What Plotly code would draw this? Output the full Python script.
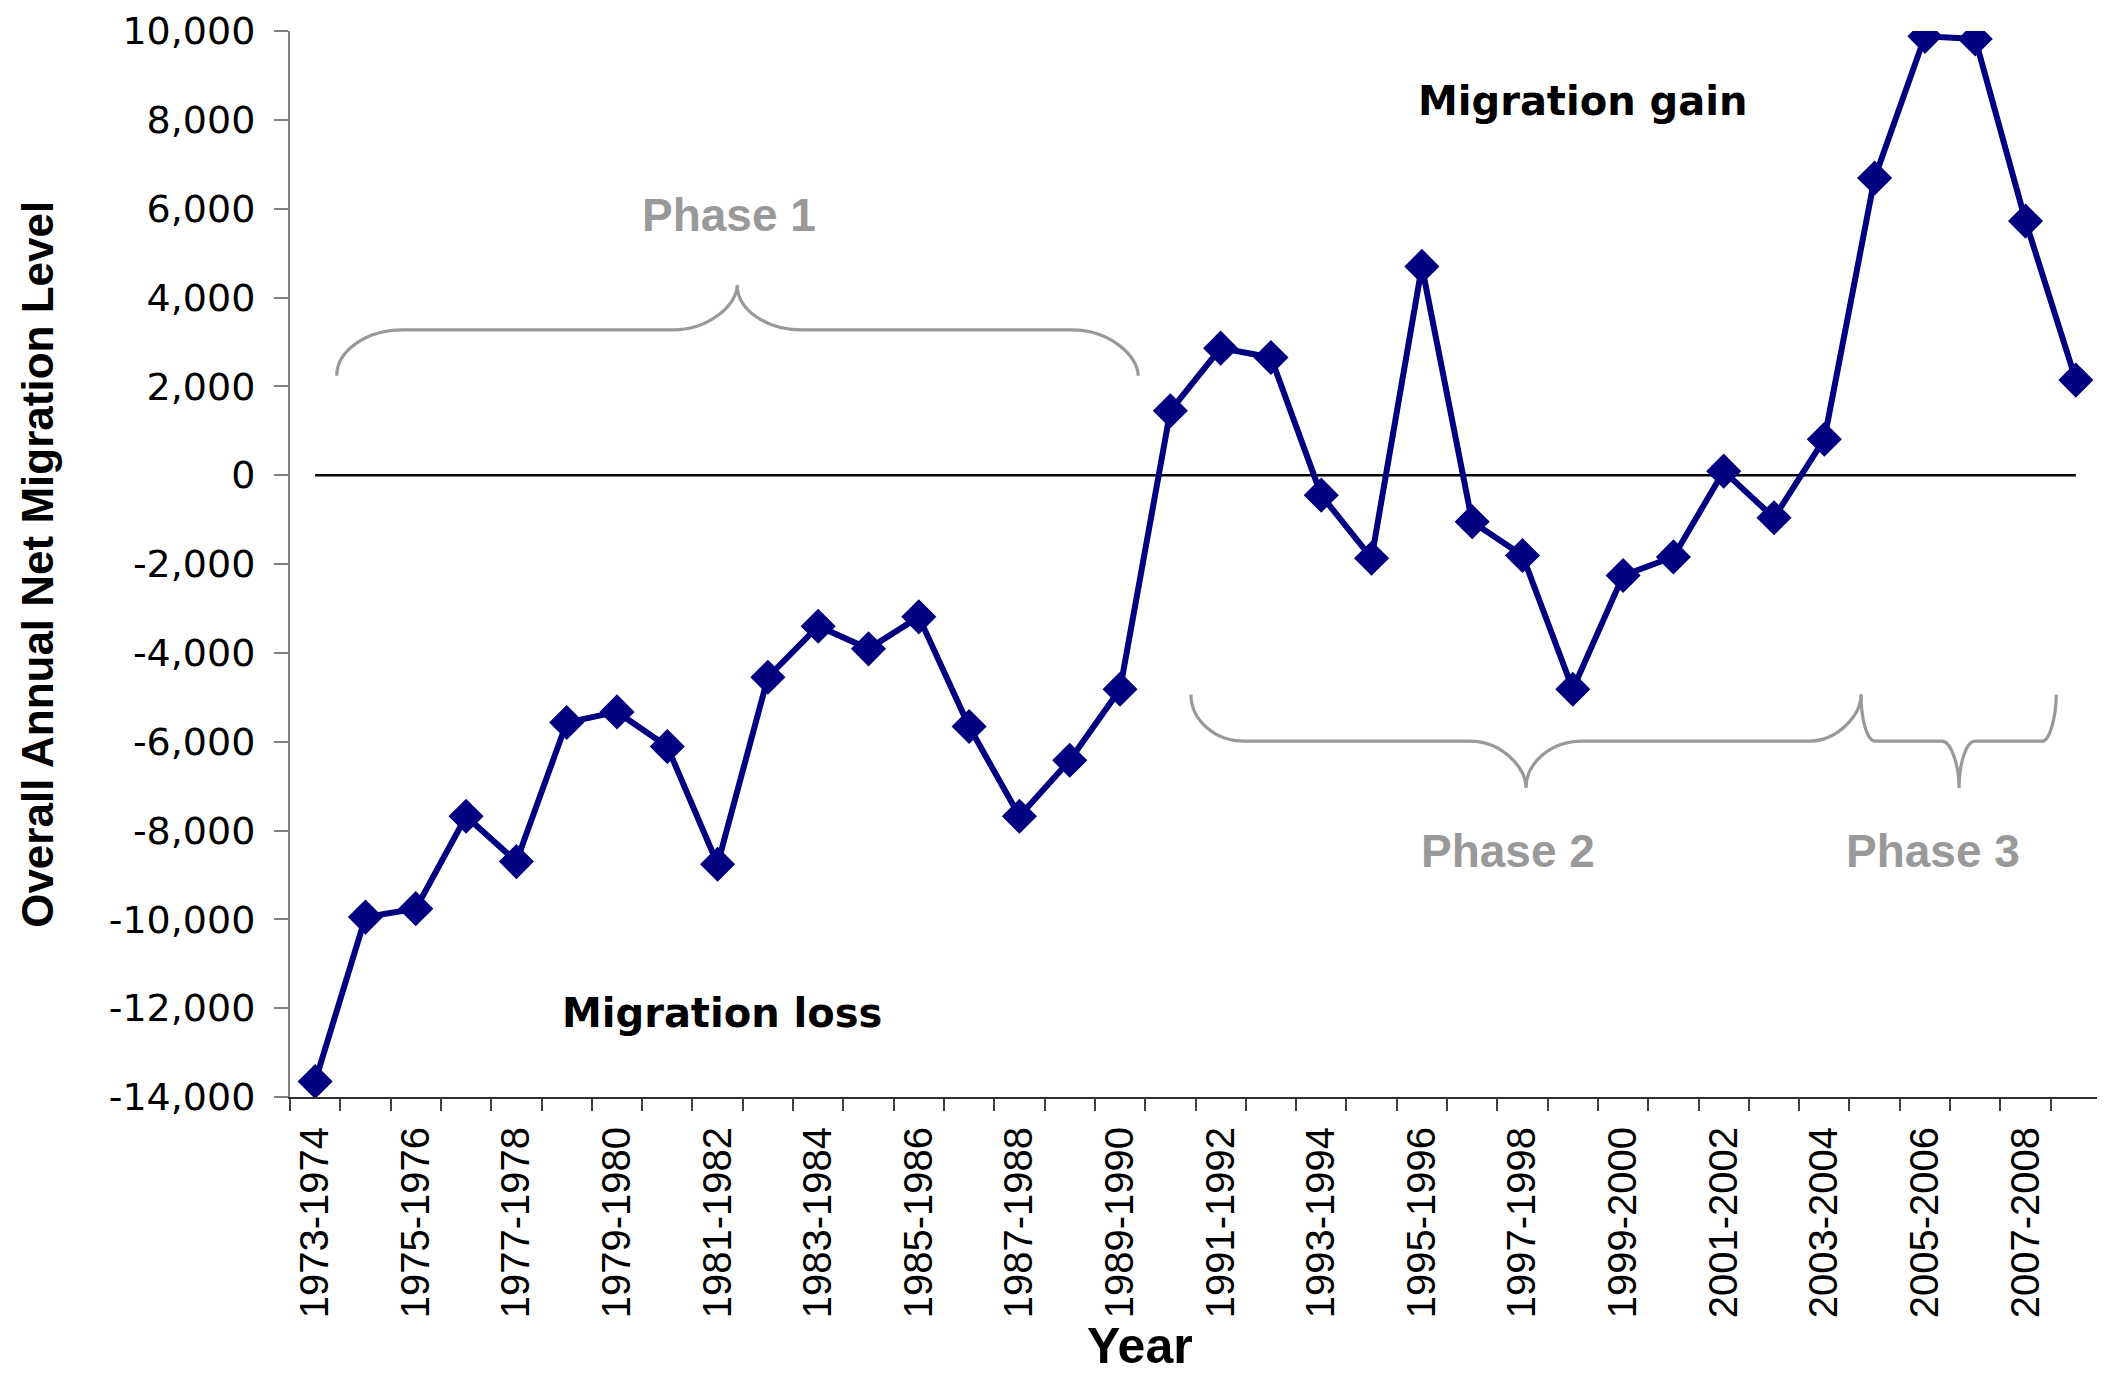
import plotly.graph_objects as go

# ---------------- data ----------------
years = [
    "1973-1974", "1974-1975", "1975-1976", "1976-1977", "1977-1978", "1978-1979",
    "1979-1980", "1980-1981", "1981-1982", "1982-1983", "1983-1984", "1984-1985",
    "1985-1986", "1986-1987", "1987-1988", "1988-1989", "1989-1990", "1990-1991",
    "1991-1992", "1992-1993", "1993-1994", "1994-1995", "1995-1996", "1996-1997",
    "1997-1998", "1998-1999", "1999-2000", "2000-2001", "2001-2002", "2002-2003",
    "2003-2004", "2004-2005", "2005-2006", "2006-2007", "2007-2008", "2008-2009",
]
net_migration = [
    -13650, -9950, -9760, -7680, -8700, -5570,
    -5330, -6110, -8760, -4550, -3400, -3910,
    -3190, -5660, -7680, -6420, -4820, 1450,
    2860, 2650, -450, -1870, 4700, -1050,
    -1810, -4820, -2260, -1840, 90, -960,
    810, 6690, 9880, 9820, 5720, 2140,
]
y_ticks = [10000, 8000, 6000, 4000, 2000, 0, -2000, -4000, -6000, -8000, -10000, -12000, -14000]
y_tick_text = [f"{v:,}" for v in y_ticks]
x_tick_text = [y if i % 2 == 0 else "" for i, y in enumerate(years)]

Y_MIN, Y_MAX = -14000, 10000
X_MIN, X_MAX = -0.5, len(years) - 0.5

NAVY = "#000080"
GREY = "#999999"

fig = go.Figure()
fig.add_trace(go.Scatter(
    x=years, y=net_migration, mode="lines+markers",
    line=dict(color=NAVY, width=6),
    marker=dict(symbol="diamond", size=27, color=NAVY, line=dict(width=0)),
    showlegend=False, hoverinfo="x+y",
))

# zero line spanning the data points
fig.add_shape(type="line", xref="x", yref="y", x0=years[0], x1=years[-1], y0=0, y1=0,
              line=dict(color="black", width=2.5), layer="below")


def to_paper(xi, yv):
    return (xi - X_MIN) / (X_MAX - X_MIN), (yv - Y_MIN) / (Y_MAX - Y_MIN)


def brace(xl, xa, xb, xt, xc, xd, xr, ye, ym, yt):
    k = 0.5523
    P = lambda x, y: "%.5f,%.5f" % to_paper(x, y)
    d = "M" + P(xl, ye)
    d += " C" + P(xl, ye + k * (ym - ye)) + " " + P(xa - k * (xa - xl), ym) + " " + P(xa, ym)
    d += " L" + P(xb, ym)
    d += " C" + P(xb + k * (xt - xb), ym) + " " + P(xt, ym + k * (yt - ym)) + " " + P(xt, yt)
    d += " C" + P(xt, yt + k * (ym - yt)) + " " + P(xc - k * (xc - xt), ym) + " " + P(xc, ym)
    d += " L" + P(xd, ym)
    d += " C" + P(xd + k * (xr - xd), ym) + " " + P(xr, ym + k * (ye - ym)) + " " + P(xr, ye)
    return d


for args in [
    (0.43, 1.75, 7.11, 8.39, 9.68, 15.05, 16.36, 2240, 3270, 4280),
    (17.41, 18.47, 22.96, 24.07, 25.19, 29.68, 30.73, -4940, -5990, -7045),
    (30.73, 31.01, 32.34, 32.68, 33.0, 34.33, 34.61, -4940, -5990, -7045),
]:
    fig.add_shape(type="path", xref="paper", yref="paper", path=brace(*args),
                  line=dict(color=GREY, width=3.2), layer="above")

ARIAL = "Liberation Sans, Arial, sans-serif"
WIDE = "DejaVu Sans, Verdana, sans-serif"

notes = [
    ("Migration gain", 25.2, 8430, WIDE, 40, "black"),
    ("Migration loss", 8.09, -12100, WIDE, 40, "black"),
    ("Phase 1", 8.23, 5850, ARIAL, 46, GREY),
    ("Phase 2", 23.71, -8460, ARIAL, 46, GREY),
    ("Phase 3", 32.16, -8460, ARIAL, 46, GREY),
]
for txt, xi, yv, fam, sz, col in notes:
    fig.add_annotation(x=xi, y=yv, xref="x", yref="y", text="<b>%s</b>" % txt, showarrow=False,
                       xanchor="center", yanchor="middle",
                       font=dict(family=fam, size=sz, color=col))

fig.add_annotation(x=-0.1398, y=0.500, xref="paper", yref="paper",
                   text="<b>Overall Annual Net Migration Level</b>", textangle=-90,
                   showarrow=False, xanchor="center", yanchor="middle",
                   font=dict(family=ARIAL, size=44, color="black"))
fig.add_annotation(x=0.4694, y=-0.2617, xref="paper", yref="paper",
                   text="<b>Year</b>", showarrow=False, xanchor="center", yanchor="bottom",
                   font=dict(family=ARIAL, size=50, color="black"))

# page body has an 8px margin: keep the figure inside the window
fig.update_layout(
    width=2097, height=1368,
    margin=dict(l=282, r=4, t=23, b=279, autoexpand=False),
    paper_bgcolor="white", plot_bgcolor="white",
    xaxis=dict(
        type="category", range=[X_MIN, X_MAX], tickmode="array",
        tickvals=years, ticktext=x_tick_text, tickangle=-90,
        tickson="boundaries", ticks="outside", ticklen=12, tickcolor="#404040", tickwidth=1.5,
        showline=True, linecolor="#303030", linewidth=2, showgrid=False, zeroline=False,
        tickfont=dict(family=ARIAL, size=40, color="black"), ticklabelstandoff=12,
    ),
    yaxis=dict(
        range=[Y_MIN, Y_MAX], tickmode="array", tickvals=y_ticks, ticktext=y_tick_text,
        ticks="outside", ticklen=14, tickcolor="#808080", tickwidth=1.5,
        showline=True, linecolor="#808080", linewidth=2, showgrid=False, zeroline=False,
        tickfont=dict(family=WIDE, size=38, color="black"), ticklabelstandoff=11,
        ticklabeloverflow="allow",
    ),
)

fig.write_html("out.html")
